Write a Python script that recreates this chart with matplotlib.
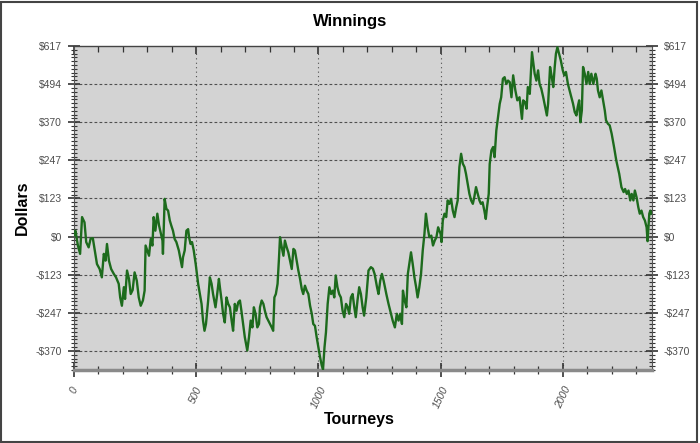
import numpy as np
import matplotlib
matplotlib.use('Agg')
import matplotlib.pyplot as plt
from matplotlib.patches import Rectangle
from matplotlib.ticker import FixedLocator, MultipleLocator

plt.rcParams['font.family'] = ['Liberation Sans', 'DejaVu Sans']

# cumulative winnings
tourneys = [0, 6, 16, 25, 33, 43, 50, 60, 68, 77, 84, 94, 105, 114, 122, 129, 135, 143, 152, 163,
            172, 183, 189, 196, 204, 209, 217, 225, 232, 240, 248, 257, 265, 273, 282, 289, 293, 300, 307, 314,
            321, 326, 333, 341, 348, 353, 362, 364, 371, 378, 385, 392, 398, 405, 412, 419, 429, 437, 442, 446,
            453, 460, 467, 471, 477, 483, 490, 498, 508, 515, 522, 528, 534, 540, 549, 556, 563, 569, 579, 586,
            593, 597, 604, 610, 617, 624, 631, 638, 645, 651, 658, 665, 672, 679, 685, 692, 699, 709, 716, 723,
            730, 736, 743, 750, 757, 761, 768, 775, 781, 788, 795, 802, 809, 815, 820, 826, 833, 839, 843, 850,
            857, 863, 870, 877, 884, 891, 898, 904, 911, 918, 925, 932, 938, 945, 952, 959, 966, 973, 979, 986,
            993, 1000, 1007, 1014, 1019, 1025, 1031, 1038, 1045, 1052, 1059, 1065, 1071, 1078, 1085, 1092, 1099, 1106, 1113, 1120,
            1126, 1133, 1140, 1147, 1153, 1160, 1167, 1174, 1181, 1187, 1196, 1205, 1215, 1223, 1230, 1240, 1246, 1253, 1260, 1267,
            1278, 1287, 1294, 1304, 1313, 1321, 1328, 1335, 1342, 1346, 1353, 1360, 1366, 1373, 1379, 1386, 1393, 1400, 1406, 1413,
            1420, 1427, 1434, 1440, 1447, 1454, 1462, 1469, 1476, 1483, 1490, 1500, 1504, 1509, 1516, 1523, 1529, 1536, 1543, 1550,
            1557, 1564, 1570, 1577, 1584, 1591, 1598, 1604, 1611, 1618, 1625, 1632, 1638, 1645, 1652, 1659, 1665, 1672, 1679, 1685,
            1690, 1697, 1701, 1708, 1715, 1721, 1728, 1735, 1742, 1748, 1755, 1762, 1769, 1776, 1783, 1790, 1797, 1806, 1814, 1823,
            1833, 1838, 1845, 1852, 1857, 1865, 1874, 1879, 1885, 1892, 1899, 1905, 1912, 1920, 1928, 1935, 1940, 1948, 1955, 1961,
            1967, 1972, 1978, 1985, 1992, 2000, 2006, 2013, 2021, 2028, 2035, 2042, 2049, 2056, 2061, 2067, 2072, 2078, 2083, 2090,
            2097, 2104, 2110, 2117, 2125, 2134, 2139, 2144, 2151, 2158, 2165, 2172, 2177, 2185, 2192, 2200, 2210, 2219, 2231, 2240,
            2249, 2255, 2262, 2269, 2276, 2282, 2289, 2295, 2302, 2309, 2315, 2322, 2329, 2336, 2343, 2347, 2354, 2358, 2363]
dollars = [5, 19, -29, -56, 63, 46, -18, -35, -7, -5, -40, -89, -105, -132, -56, -78, -24, -78, -105, -121,
           -132, -153, -197, -224, -164, -202, -110, -137, -186, -173, -116, -143, -197, -224, -207, -175, -29, -45, -62, -8,
           -29, 63, 19, 74, 36, 19, -13, -56, 122, 90, 84, 52, 36, 19, -8, -18, -45, -78, -99, -67,
           -45, 19, 24, -3, -24, -18, -45, -89, -153, -186, -218, -272, -305, -283, -207, -132, -153, -186, -229, -186,
           -137, -164, -207, -250, -278, -197, -218, -229, -272, -305, -218, -240, -213, -207, -240, -283, -326, -369, -326, -272,
           -294, -229, -250, -294, -283, -229, -207, -218, -240, -261, -272, -283, -294, -305, -197, -186, -153, -67, -2, -34,
           -62, -13, -34, -51, -78, -105, -40, -45, -78, -110, -137, -170, -186, -159, -175, -186, -224, -250, -283, -289,
           -326, -359, -391, -418, -430, -359, -310, -218, -164, -186, -175, -197, -126, -164, -186, -197, -240, -261, -218, -229,
           -250, -197, -186, -229, -261, -207, -164, -186, -229, -256, -197, -110, -99, -104, -121, -164, -186, -143, -121, -143,
           -186, -218, -240, -272, -294, -250, -272, -250, -283, -175, -207, -229, -121, -83, -51, -89, -132, -164, -197, -164,
           -121, -45, 9, 74, 30, -2, 3, -29, -13, -2, 30, 9, -18, 52, 74, 63, 117, 106, 122, 84,
           63, 95, 117, 225, 268, 236, 225, 203, 171, 138, 117, 106, 128, 160, 138, 117, 106, 111, 84, 57,
           95, 138, 235, 279, 290, 257, 343, 387, 430, 451, 511, 516, 494, 505, 500, 451, 522, 473, 441, 451,
           381, 441, 435, 414, 484, 462, 597, 565, 527, 505, 538, 494, 479, 451, 419, 392, 430, 549, 516, 484,
           549, 592, 613, 592, 570, 538, 522, 533, 494, 473, 451, 430, 403, 392, 419, 441, 370, 408, 549, 527,
           494, 533, 494, 527, 494, 527, 511, 473, 451, 473, 441, 408, 376, 365, 360, 333, 289, 246, 203, 160,
           144, 154, 138, 149, 117, 138, 117, 149, 127, 95, 74, 84, 63, 52, 30, -15, 74, 84, 74]

y_top = 617
y_bottom = -432
x_right = 2365
step = y_top / 5.0

fig = plt.figure(figsize=(7, 4.43), dpi=100)
ax = fig.add_axes([0.1057, 0.1648, 0.8257, 0.7314])
ax.set_facecolor('#d3d3d3')

ax.plot(tourneys, dollars, color='#1d6b1d', lw=1.7, zorder=3)
ax.axhline(0, color='#4a4a4a', lw=1.0, zorder=2)

ax.set_xlim(0, x_right)
ax.set_ylim(y_bottom, y_top)

yt = [k * step for k in range(-3, 6)]
ax.yaxis.set_major_locator(FixedLocator(yt))
ax.yaxis.set_minor_locator(MultipleLocator(step / 10))
labels = []
for v in yt:
    r = int(round(v))
    labels.append('$%d' % r if r >= 0 else '-$%d' % (-r))
ax.set_yticklabels(labels)

xt = [0, 500, 1000, 1500, 2000]
ax.xaxis.set_major_locator(FixedLocator(xt))
ax.xaxis.set_minor_locator(MultipleLocator(100))
ax.set_xticklabels([str(x) for x in xt], rotation=65, style='italic')

for y in yt:
    if abs(y) > 1 and y < y_top - 1:
        ax.axhline(y, color='#505050', lw=0.8, ls=(0, (2.5, 2)), zorder=1)
for x in xt[1:]:
    ax.axvline(x, color='#505050', lw=0.8, ls=(0, (1, 3)), zorder=1)

ax.tick_params(axis='y', which='both', direction='inout', left=True, right=True,
               labelleft=True, labelright=True, labelsize=7.5, labelcolor='#4d4d4d', color='#333333')
ax.tick_params(axis='y', which='major', length=9, width=1.2, pad=4)
ax.tick_params(axis='y', which='minor', length=5, width=0.8)
ax.tick_params(axis='x', which='both', direction='inout', top=False, bottom=True,
               labelsize=7.5, labelcolor='#4d4d4d', color='#333333')
ax.tick_params(axis='x', which='major', length=10, width=1.2, pad=6)
ax.tick_params(axis='x', which='minor', length=6, width=0.9)

# top ticks point inward only
top = ax.secondary_xaxis('top')
top.xaxis.set_major_locator(FixedLocator(xt))
top.xaxis.set_minor_locator(MultipleLocator(100))
top.tick_params(which='both', direction='in', labeltop=False, color='#333333')
top.tick_params(which='major', length=6, width=1.2)
top.tick_params(which='minor', length=4, width=0.9)
top.spines['top'].set_visible(False)

ax.spines['left'].set_color('#555555')
ax.spines['right'].set_color('#555555')
ax.spines['left'].set_linewidth(0.8)
ax.spines['right'].set_linewidth(0.8)
ax.spines['top'].set_color('#444444')
ax.spines['top'].set_linewidth(1.0)
ax.spines['bottom'].set_color('#8a8a8a')
ax.spines['bottom'].set_linewidth(2.5)

fig.text(0.5, 0.952, 'Winnings', ha='center', va='center', fontsize=12, fontweight='bold')
fig.text(0.032, 0.53, 'Dollars', ha='center', va='center', rotation=90, fontsize=11.5, fontweight='bold')
fig.text(0.513, 0.052, 'Tourneys', ha='center', va='center', fontsize=11.5, fontweight='bold')

fig.patches.append(Rectangle((0.002, 0.003), 0.994, 0.993, transform=fig.transFigure,
                             fill=False, edgecolor='#444444', lw=1.5))

plt.savefig('out.png', dpi=100)
